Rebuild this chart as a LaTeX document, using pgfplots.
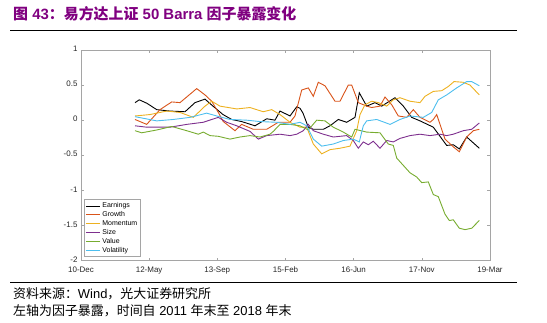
\documentclass[border=0pt]{standalone}
\usepackage{pgfplots}
\pgfplotsset{compat=1.18}
\usepackage{fontspec}
\setmainfont{Liberation Sans}
\newfontfamily\cjk{Noto Sans CJK SC}
\definecolor{cEarn}{rgb}{0,0,0}
\definecolor{cGrowth}{rgb}{0.85,0.325,0.098}
\definecolor{cMom}{rgb}{0.929,0.694,0.125}
\definecolor{cSize}{rgb}{0.494,0.184,0.556}
\definecolor{cValue}{rgb}{0.466,0.674,0.188}
\definecolor{cVol}{rgb}{0.301,0.745,0.933}
\definecolor{titlepurple}{RGB}{128,0,128}
\definecolor{axgray}{RGB}{165,165,165}
\definecolor{ticktext}{RGB}{38,38,38}
\begin{document}
\begin{tikzpicture}
\path[use as bounding box] (0,0) rectangle (547bp,-323bp);
\node[anchor=west, text=titlepurple, font=\fontsize{15}{17}\selectfont\bfseries, inner sep=0pt] at (13bp,-14bp) {{\cjk 图} 43{\cjk ：易方达上证} 50 Barra {\cjk 因子暴露变化}};
\draw[line width=1bp] (10bp,-30.5bp) -- (517bp,-30.5bp);
\begin{axis}[
  at={(81bp,-260.5bp)}, anchor=south west,
  width=409bp, height=210.5bp, scale only axis,
  xmin=0, xmax=409, ymin=-2, ymax=1,
  axis line style={axgray, line width=0.6bp},
  tick style={axgray, line width=0.6bp},
  major tick length=3bp,
  tick align=inside,
  xtick={0,68.17,136.33,204.5,272.67,340.83,409},
  xticklabels={10-Dec,12-May,13-Sep,15-Feb,16-Jun,17-Nov,19-Mar},
  ytick={-2,-1.5,-1,-0.5,0,0.5,1},
  yticklabels={-2,-1.5,-1,-0.5,0,0.5,1},
  ticklabel style={font=\fontsize{8}{9}\selectfont, text=ticktext},
  xticklabel style={yshift=-2.5bp},
  yticklabel style={yshift=1bp},
  legend style={at={(0.008,0.017)}, anchor=south west, draw=axgray, line width=0.5bp,
    font=\fontsize{7}{7.5}\selectfont, inner sep=1bp, row sep=-1.6bp},
  legend cell align=left,
  legend image code/.code={\draw[#1] (0bp,0bp) -- (14bp,0bp);},
  every axis plot/.append style={line width=0.9bp},
]
\addplot[cEarn] coordinates {(54,0.25)(58.3,0.29)(66,0.24)(75.7,0.15)(89,0.13)(104,0.12)(114,0.25)(124,0.30)(132,0.2)(142,0.08)(150.7,0.01)(160.7,-0.02)(174,-0.08)(185.7,0.02)(194,0)(199,0.13)(209,0.06)(215.7,0.19)(219,0.17)(222,0.1)(227.3,-0.1)(232.3,-0.13)(242.3,-0.13)(249,-0.08)(257.3,0.01)(265.7,-0.03)(274,0.04)(278.3,0.39)(285.7,0.2)(294,0.25)(300.7,0.2)(314,0.32)(322.3,0.2)(330.7,0.04)(339,-0.01)(352.3,-0.1)(365.7,-0.36)(372.3,-0.35)(378.3,-0.41)(385.7,-0.24)(398.3,-0.4)};
\addlegendentry{Earnings}
\addplot[cGrowth] coordinates {(54,0.01)(65.7,-0.06)(79,0.15)(90.7,0.26)(99,0.25)(115.7,0.45)(124,0.36)(130.7,0.27)(137.3,0.11)(142.3,-0.02)(154,-0.15)(160.7,-0.06)(172.3,-0.13)(185.7,-0.13)(197.3,-0.03)(209,-0.03)(214,0.06)(220.7,0.43)(227.3,0.46)(232.3,0.34)(237.3,0.54)(244,0.49)(254,0.27)(259,0.27)(267.3,0.5)(270.7,0.5)(277.3,0.25)(285.7,0.2)(290.7,0.18)(299,0.2)(304,0.33)(310.7,0.22)(317.3,0.06)(325.7,0.04)(332.3,0.15)(339,0.04)(349,-0.03)(352.3,0.01)(355.7,0.08)(364,-0.27)(372.3,-0.38)(378.3,-0.45)(385.7,-0.24)(392.3,-0.15)(398.3,-0.13)};
\addlegendentry{Growth}
\addplot[cMom] coordinates {(54,0.06)(69,0.08)(85.7,0.13)(99,0.11)(112.3,0.04)(124,0.2)(130.7,0.27)(139,0.2)(155.7,0.16)(169,0.18)(182.3,0.12)(190.7,0.15)(199,0.08)(209,-0.03)(219,-0.1)(225.7,-0.1)(232.3,-0.34)(240.7,-0.48)(249,-0.42)(259,-0.4)(269,-0.37)(275.7,-0.15)(279,0.08)(284,0.22)(290.7,0.27)(297.3,0.25)(305.7,0.2)(312.3,0.29)(319,0.32)(329,0.27)(339,0.25)(344,0.34)(352.3,0.41)(360.7,0.42)(367.3,0.48)(373,0.55)(382.3,0.54)(389,0.5)(398.3,0.36)};
\addlegendentry{Momentum}
\addplot[cSize] coordinates {(54,-0.08)(65.7,-0.1)(89,-0.1)(105.7,-0.06)(122.3,-0.03)(130.7,0.01)(137.3,0.04)(145.7,-0.03)(155.7,-0.08)(169,-0.16)(177.3,-0.27)(185.7,-0.22)(199,-0.2)(209,-0.22)(215.7,-0.2)(222.3,-0.15)(227.3,-0.06)(232.3,-0.15)(242.3,-0.2)(252.3,-0.24)(265.7,-0.22)(272.3,-0.29)(277.3,-0.4)(282.3,-0.31)(287.3,-0.35)(292.3,-0.3)(299,-0.4)(305.7,-0.29)(312.3,-0.31)(319,-0.26)(329,-0.22)(339,-0.2)(349,-0.22)(359,-0.2)(365.7,-0.22)(372.3,-0.2)(382.3,-0.15)(390.7,-0.13)(398.3,-0.04)};
\addlegendentry{Size}
\addplot[cValue] coordinates {(54,-0.15)(60.7,-0.18)(75.7,-0.14)(90.7,-0.09)(105.7,-0.15)(117.3,-0.2)(122.3,-0.17)(129,-0.22)(137.3,-0.23)(149,-0.27)(159,-0.24)(169,-0.22)(179,-0.24)(189,-0.2)(192.3,-0.16)(199,-0.06)(209,-0.06)(219,-0.08)(227.3,-0.14)(235.7,0.0)(244,-0.01)(252.3,-0.1)(262.3,-0.17)(270.7,-0.24)(274,-0.13)(285.7,-0.17)(299,-0.18)(307.3,-0.34)(312.3,-0.36)(315.7,-0.54)(329,-0.75)(335.7,-0.81)(340.7,-0.89)(347.3,-0.88)(352.3,-1.06)(357.3,-1.09)(364,-1.34)(368.3,-1.43)(372.3,-1.42)(378.3,-1.54)(384,-1.56)(390.7,-1.54)(398.3,-1.43)};
\addlegendentry{Value}
\addplot[cVol] coordinates {(54,0.05)(75.7,-0.01)(92.3,0.01)(109,0.04)(125.7,0.1)(135.7,0.06)(149,0.01)(165.7,0)(179,-0.02)(195.7,-0.03)(209,-0.06)(219,-0.03)(225.7,-0.08)(232.3,-0.27)(240.7,-0.37)(252.3,-0.34)(262.3,-0.29)(272.3,-0.27)(278.3,-0.31)(282.3,-0.08)(285.7,-0.01)(295.7,0.01)(309,-0.06)(319,0.01)(329,0.06)(342.3,0.04)(350.7,0.11)(357.3,0.29)(365.7,0.36)(375.7,0.46)(385.7,0.55)(390.7,0.55)(398.3,0.49)};
\addlegendentry{Volatility}
\end{axis}
\draw[line width=1bp] (10bp,-282bp) -- (517bp,-282bp);
\node[anchor=west, font=\fontsize{13}{15}\selectfont, inner sep=0pt] at (13bp,-294bp) {{\cjk 资料来源：}Wind{\cjk ，光大证券研究所}};
\node[anchor=west, font=\fontsize{13}{15}\selectfont, inner sep=0pt] at (13bp,-311bp) {{\cjk 左轴为因子暴露，时间自} 2011 {\cjk 年末至} 2018 {\cjk 年末}};
\end{tikzpicture}
\end{document}
